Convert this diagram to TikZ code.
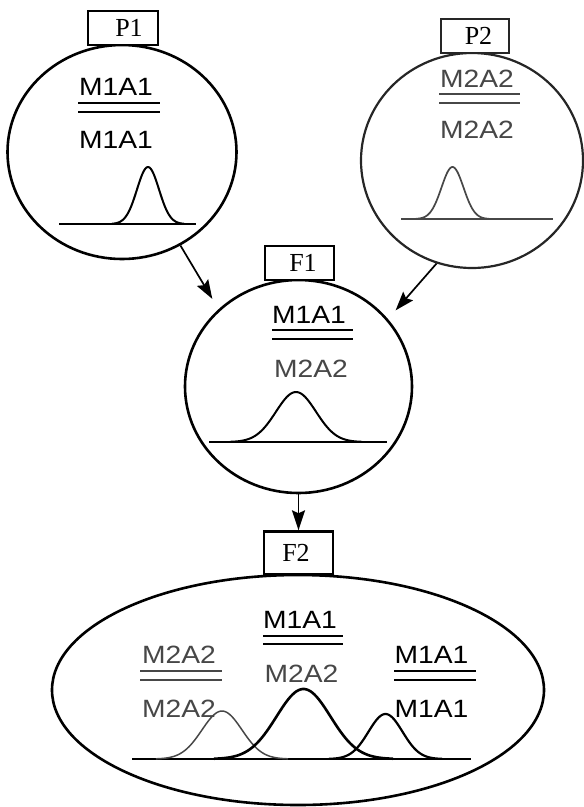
\documentclass[tikz,border=0pt]{standalone}
\usepackage{fontspec}
\setmainfont{Liberation Serif}
\setsansfont{Liberation Sans}
\usetikzlibrary{arrows.meta,shapes.geometric}
\definecolor{mtwo}{gray}{0.28}
% genotype labels are set slightly wide
\newcommand\genotxt[1]{\scalebox{1.13}[1]{#1}}

\begin{document}
\begin{tikzpicture}[x=1pt,y=-1pt,
  plant/.style={draw, ellipse, line width=2.6pt, inner sep=0pt},
  tag/.style={draw, rectangle, line width=2.4pt, inner sep=0pt,
              font=\fontsize{26}{28}\selectfont},
  geno/.style={font=\sffamily\fontsize{25}{30}\selectfont, inner sep=0pt, anchor=base},
  bar/.style={line width=2.5pt},
  axis/.style={line width=2.6pt},
  curve/.style={line width=2pt},
  cross/.style={line width=1.7pt, -{Stealth[length=19pt,width=13pt,inset=3pt]}}]

\useasboundingbox (0,0) rectangle (584,807);

% --- populations ---------------------------------------------------------
\node[plant, minimum width=229pt, minimum height=214pt] (p1) at (122,152) {};
\node[plant, draw=black!85, line width=2.2pt, minimum width=222pt, minimum height=215pt] (p2) at (472,160.5) {};
\node[plant, minimum width=227pt, minimum height=213pt] (f1) at (298.5,386.5) {};
\node[plant, minimum width=492pt, minimum height=230pt] (f2) at (298,690) {};

% --- generation tags -----------------------------------------------------
\node[tag, fill=white, minimum width=70pt, minimum height=34pt] (p1tag) at (123,28) {\hspace*{12pt}P1};
\node[tag, draw=black!85, fill=white, minimum width=68pt, minimum height=34pt] (p2tag) at (475,36) {\hspace*{7pt}P2};
\node[tag, fill=white, minimum width=69pt, minimum height=34pt] (f1tag) at (299.5,263) {\hspace*{7pt}F1};
\node[tag, fill=white, minimum width=69pt, minimum height=43pt] (f2tag) at (298.5,553) {F2\hspace*{5pt}};

% --- crosses -------------------------------------------------------------
\draw[cross, shorten >=12pt] (p1.-58.5) -- (f1.136.7);
\draw[cross, shorten >=11.5pt] (p2.-109) -- (f1.37.5);
\draw[cross, -{Stealth[length=20pt,width=13pt,inset=3pt]}] (f1.south) -- (f2tag.north);

% --- P1: M1A1 / M1A1 -----------------------------------------------------
\node[geno] (p1a) at (116,95) {\genotxt{M1A1}};
\draw[bar] (78,103) -- (160,103);
\draw[bar] (78,112) -- (160,112);
\node[geno] (p1b) at (116,148) {\genotxt{M1A1}};
\draw[axis] (59,224) -- (196,224);
\draw[curve] plot[domain=112:184, samples=70, smooth]
  (\x, {224 - 57*exp(-((\x-148)*(\x-148))/242)});

% --- P2: M2A2 / M2A2 -----------------------------------------------------
\node[geno, text=mtwo] (p2a) at (477,87) {\genotxt{M2A2}};
\draw[bar, mtwo] (439,94) -- (520,94);
\draw[bar, mtwo] (439,103) -- (520,103);
\node[geno, text=mtwo] (p2b) at (477,138) {\genotxt{M2A2}};
\draw[axis, mtwo, line width=2.2pt] (401,219) -- (553,219);
\draw[curve, mtwo, line width=1.7pt] plot[domain=416:489, samples=70, smooth]
  (\x, {219 - 52*exp(-((\x-452.5)*(\x-452.5))/242)});

% --- F1: M1A1 / M2A2 -----------------------------------------------------
\node[geno] (f1a) at (309,323) {\genotxt{M1A1}};
\draw[bar] (272,330) -- (353,330);
\draw[bar] (272,339) -- (353,339);
\node[geno, text=mtwo] (f1b) at (311,377) {\genotxt{M2A2}};
\draw[axis] (209,442) -- (387,442);
\draw[curve] plot[domain=230:362, samples=80, smooth]
  (\x, {442 - 50*exp(-((\x-296)*(\x-296))/800)});

% --- F2: segregating classes ---------------------------------------------
\node[geno, text=mtwo] (f2la) at (179,663) {\genotxt{M2A2}};
\draw[bar, mtwo] (140,671) -- (222,671);
\draw[bar, mtwo] (140,680) -- (222,680);
\node[geno, text=mtwo] (f2lb) at (179,717) {\genotxt{M2A2}};

\node[geno] (f2ca) at (300,628) {\genotxt{M1A1}};
\draw[bar] (263,636) -- (343,636);
\draw[bar] (263,644) -- (343,644);
\node[geno, text=mtwo] (f2cb) at (301.5,682) {\genotxt{M2A2}};

\node[geno] (f2ra) at (431.5,663) {\genotxt{M1A1}};
\draw[bar] (394,671) -- (476,671);
\draw[bar] (394,680) -- (476,680);
\node[geno] (f2rb) at (431.5,717) {\genotxt{M1A1}};

\draw[axis] (132,759) -- (471,759);
\draw[curve, mtwo, line width=1.5pt] plot[domain=156:288, samples=80, smooth]
  (\x, {759 - 48*exp(-((\x-222)*(\x-222))/800)});
\draw[curve, line width=2.6pt] plot[domain=214:393, samples=90, smooth]
  (\x, {759 - 70*exp(-((\x-303.5)*(\x-303.5))/1458)});
\draw[curve, line width=2.2pt] plot[domain=329:442, samples=80, smooth]
  (\x, {759 - 45*exp(-((\x-385.5)*(\x-385.5))/578)});

\end{tikzpicture}
\end{document}
